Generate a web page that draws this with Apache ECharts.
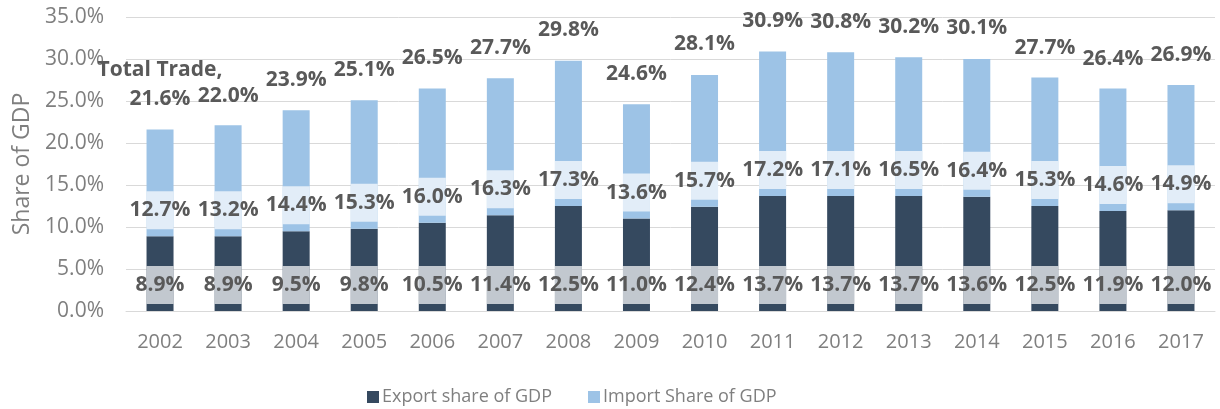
<!DOCTYPE html>
<html>
<head>
<meta charset="utf-8">
<script src="https://cdn.jsdelivr.net/npm/echarts@6/dist/echarts.min.js"></script>
<style>
html,body{margin:0;padding:0;background:#fff;}
#chart{width:1220px;height:409px;}
</style>
</head>
<body>
<div id="chart"></div>
<script>
var years = ['2002','2003','2004','2005','2006','2007','2008','2009','2010','2011','2012','2013','2014','2015','2016','2017'];
var exportShare = [8.9, 8.9, 9.5, 9.8, 10.5, 11.4, 12.5, 11.0, 12.4, 13.7, 13.7, 13.7, 13.6, 12.5, 11.9, 12.0];
var importShare = [12.7, 13.2, 14.4, 15.3, 16.0, 16.3, 17.3, 13.6, 15.7, 17.2, 17.1, 16.5, 16.4, 15.3, 14.6, 14.9];
var totalTrade = [21.6, 22.0, 23.9, 25.1, 26.5, 27.7, 29.8, 24.6, 28.1, 30.9, 30.8, 30.2, 30.1, 27.7, 26.4, 26.9];

var FONT = '"Open Sans", "Noto Sans", sans-serif';
var LABEL_COLOR = '#595959';
var AXIS_COLOR = '#7F7F7F';

function segLabel() {
  return {
    show: true,
    position: 'insideBottom',
    distance: 7,
    fontFamily: FONT,
    fontSize: 21,
    fontWeight: 'bold',
    color: LABEL_COLOR,
    width: 27,
    height: 38,
    lineHeight: 38,
    overflow: 'none',
    align: 'center',
    backgroundColor: 'rgba(255,255,255,0.7)',
    formatter: function (p) { return p.value.toFixed(1) + '%'; }
  };
}

var chart = echarts.init(document.getElementById('chart'));
chart.setOption({
  animation: false,
  backgroundColor: '#fff',
  grid: { left: 126, right: 5, top: 17, bottom: 98, containLabel: false },
  legend: {
    data: ['Export share of GDP', 'Import Share of GDP'],
    left: 362,
    top: 383,
    itemWidth: 12,
    itemHeight: 12,
    itemGap: 36,
    icon: 'rect',
    textStyle: { fontFamily: FONT, fontSize: 18, color: AXIS_COLOR, padding: [0, 0, 0, -2] }
  },
  xAxis: {
    type: 'category',
    data: years,
    axisTick: { show: false },
    axisLine: { lineStyle: { color: '#D9D9D9', width: 1 } },
    axisLabel: { fontFamily: FONT, fontSize: 20, color: AXIS_COLOR, margin: 21 }
  },
  yAxis: {
    type: 'value',
    min: 0,
    max: 35,
    interval: 5,
    name: 'Share of GDP',
    nameLocation: 'middle',
    nameGap: 89,
    nameTextStyle: { fontFamily: FONT, fontSize: 23, color: AXIS_COLOR },
    axisLine: { show: false },
    axisTick: { show: false },
    splitLine: { lineStyle: { color: '#D9D9D9', width: 1 } },
    axisLabel: {
      fontFamily: FONT, fontSize: 21, color: AXIS_COLOR, margin: 22,
      formatter: function (v) { return v.toFixed(1) + '%'; }
    }
  },
  series: [
    {
      name: 'Export share of GDP',
      type: 'bar',
      stack: 'trade',
      barWidth: 27,
      data: exportShare,
      itemStyle: { color: '#35495F' },
      label: segLabel()
    },
    {
      name: 'Import Share of GDP',
      type: 'bar',
      stack: 'trade',
      barWidth: 27,
      data: importShare,
      itemStyle: { color: '#9DC3E6' },
      label: segLabel()
    },
    {
      name: 'Total',
      type: 'bar',
      barWidth: 27,
      barGap: '-100%',
      data: totalTrade,
      itemStyle: { color: 'rgba(0,0,0,0)' },
      silent: true,
      z: 1,
      label: {
        show: true,
        position: 'top',
        distance: 16,
        fontFamily: FONT,
        fontSize: 21,
        fontWeight: 'bold',
        color: LABEL_COLOR,
        lineHeight: 29,
        formatter: function (p) {
          var s = p.value.toFixed(1) + '%';
          return p.dataIndex === 0 ? 'Total Trade,\n' + s : s;
        }
      }
    }
  ]
});
</script>
</body>
</html>
